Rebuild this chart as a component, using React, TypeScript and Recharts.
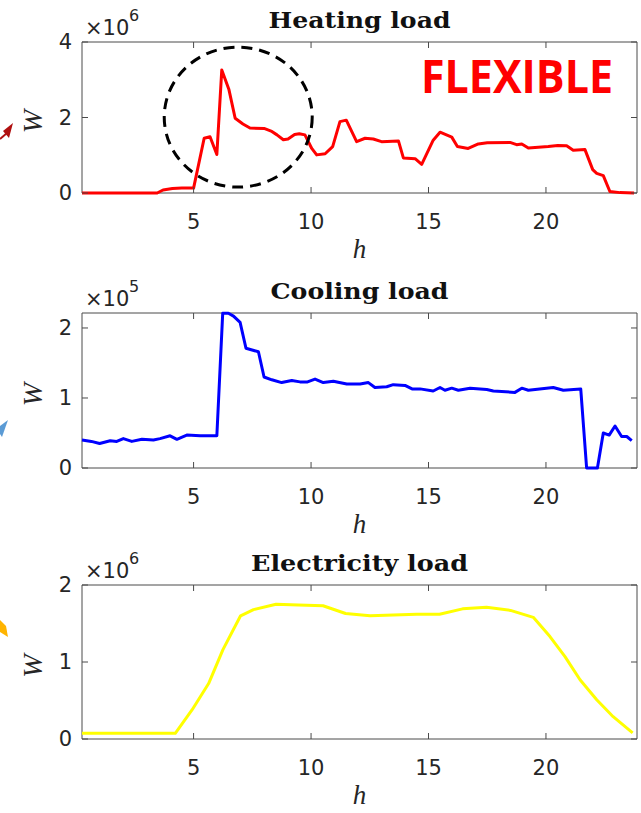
import { LineChart, Line, XAxis, YAxis, ReferenceDot, ReferenceArea } from "recharts";

// hours on the x axis, shared by all three panels
const HOUR_TICKS = [5, 10, 15, 20];
const HOUR_DOMAIN = [0.25, 23.875];

// heating load, x10^6 W
const heatingHours = [
  0.25, 3.45, 3.7, 4.1, 4.5, 5.0, 5.45, 5.7, 5.99, 6.2, 6.5, 6.77, 7.1, 7.4, 8.0, 8.3, 8.55, 8.82, 9.02, 9.3,
  9.5, 9.74, 10.03, 10.24, 10.6, 10.92, 11.23, 11.5, 11.94, 12.3, 12.65, 13.0, 13.72, 13.93, 14.43, 14.71,
  15.2, 15.49, 15.99, 16.23, 16.69, 17.12, 17.5, 18.47, 18.75, 18.97, 19.25, 20.1, 20.5, 20.88, 21.16,
  21.66, 21.99, 22.16, 22.44, 22.72, 23.15, 23.75,
];
const heatingValues = [
  0, 0, 0.08, 0.12, 0.13, 0.13, 1.45, 1.49, 1.02, 3.26, 2.75, 1.98, 1.83, 1.72, 1.71, 1.64, 1.54, 1.41, 1.43,
  1.55, 1.57, 1.54, 1.18, 1.01, 1.04, 1.23, 1.89, 1.93, 1.36, 1.45, 1.43, 1.36, 1.38, 0.93, 0.91, 0.76, 1.4,
  1.61, 1.48, 1.23, 1.18, 1.3, 1.33, 1.34, 1.28, 1.3, 1.19, 1.23, 1.26, 1.25, 1.13, 1.15, 0.62, 0.52, 0.46,
  0.04, 0.01, 0,
];

// cooling load, x10^5 W
const coolingHours = [
  0.25, 0.65, 1.0, 1.45, 1.73, 2.01, 2.37, 2.8, 3.29, 3.57, 4.0, 4.29, 4.71, 5.28, 5.99, 6.24, 6.48, 6.7,
  6.98, 7.23, 7.76, 8.0, 8.33, 8.75, 9.18, 9.53, 9.85, 10.17, 10.52, 10.95, 11.52, 12.09, 12.44, 12.72,
  13.22, 13.5, 14.0, 14.3, 14.64, 15.2, 15.49, 15.7, 15.99, 16.27, 16.77, 17.48, 17.76, 18.68, 18.97,
  19.25, 20.31, 20.74, 21.48, 21.73, 22.19, 22.44, 22.69, 22.94, 23.22, 23.44, 23.65,
];
const coolingValues = [
  0.4, 0.38, 0.35, 0.39, 0.38, 0.42, 0.38, 0.41, 0.4, 0.42, 0.46, 0.41, 0.47, 0.46, 0.46, 2.21, 2.21, 2.17,
  2.08, 1.71, 1.66, 1.3, 1.26, 1.22, 1.25, 1.23, 1.23, 1.27, 1.22, 1.24, 1.2, 1.2, 1.22, 1.15, 1.16, 1.19,
  1.18, 1.13, 1.13, 1.1, 1.15, 1.11, 1.14, 1.11, 1.14, 1.12, 1.1, 1.08, 1.14, 1.11, 1.15, 1.11, 1.13, 0, 0,
  0.5, 0.47, 0.6, 0.45, 0.45, 0.39,
];

// electricity load, x10^6 W
const electricityHours = [
  0.25, 4.22, 4.94, 5.64, 6.25, 7.0, 7.55, 8.51, 9.46, 10.51, 11.47, 12.51, 13.5, 14.5, 15.47, 16.45, 17.47,
  18.49, 19.46, 20.17, 20.81, 21.45, 22.16, 22.86, 23.69,
];
const electricityValues = [
  0.074, 0.074, 0.38, 0.72, 1.16, 1.6, 1.68, 1.75, 1.74, 1.73, 1.63, 1.6, 1.61, 1.62, 1.62, 1.69, 1.71,
  1.67, 1.58, 1.33, 1.07, 0.77, 0.51, 0.29, 0.08,
];

const AXIS = "#4a4a4a";
const TEXT = "#262626";
const TICK_FONT = { fill: TEXT, fontSize: 21, fontFamily: "DejaVu Sans" };
const TICK_LEN = 6;

const toRows = (hours: number[], values: number[]) => hours.map((h, i) => ({ h, v: values[i] }));

// inward tick mark drawn at a reference point
const tickMark = (dx: number, dy: number) => (p: any) =>
  <path d={`M${p.cx},${p.cy}l${dx},${dy}`} stroke={AXIS} strokeWidth={1} fill="none" />;

function LoadPanel(props: any) {
  const { title, titleLen, exp, rows, color, yMax, yTicks, height, top, bottom, children } = props;
  const [x0, x1] = HOUR_DOMAIN;

  const titleLabel = ({ viewBox }: any) => (
    <g>
      <text
        x={viewBox.x + viewBox.width / 2}
        y={viewBox.y - 14}
        textAnchor="middle"
        textLength={titleLen}
        lengthAdjust="spacingAndGlyphs"
        fontFamily="DejaVu Serif"
        fontWeight="bold"
        fontSize={22}
        fill="#111"
      >
        {title}
      </text>
      <text x={viewBox.x + 3} y={viewBox.y - 7} fontFamily="DejaVu Sans" fontSize={21} fill={TEXT}>
        ×10
      </text>
      <text x={viewBox.x + 47} y={viewBox.y - 21} fontFamily="DejaVu Sans" fontSize={16} fill={TEXT}>
        {exp}
      </text>
    </g>
  );

  const hLabel = ({ viewBox }: any) => (
    <text
      x={viewBox.x + viewBox.width / 2}
      y={viewBox.y + 65}
      textAnchor="middle"
      fontFamily="Liberation Serif"
      fontStyle="italic"
      fontSize={27}
      fill={TEXT}
    >
      h
    </text>
  );

  const wLabel = ({ viewBox }: any) => {
    const cx = viewBox.x + 32;
    const cy = viewBox.y + viewBox.height / 2 + 4;
    return (
      <text
        x={cx}
        y={cy}
        transform={`rotate(-90 ${cx} ${cy})`}
        textAnchor="middle"
        dominantBaseline="central"
        fontFamily="Liberation Serif"
        fontStyle="italic"
        fontSize={28}
        fill={TEXT}
      >
        W
      </text>
    );
  };

  return (
    <LineChart width={641} height={height} data={rows} margin={{ top, right: 4, bottom, left: 0 }}>
      <XAxis
        dataKey="h"
        type="number"
        domain={HOUR_DOMAIN}
        ticks={HOUR_TICKS}
        interval={0}
        height={40}
        axisLine={false}
        tickLine={false}
        tickSize={-6}
        tickMargin={27}
        tick={TICK_FONT}
        label={hLabel}
      />
      <YAxis
        type="number"
        domain={[0, yMax]}
        ticks={yTicks}
        interval={0}
        width={82}
        axisLine={false}
        tickLine={false}
        tickSize={-6}
        tickMargin={16}
        tick={TICK_FONT}
        label={wLabel}
      />
      {/* MATLAB-style box around the axes, title sits on top of it */}
      <ReferenceArea
        x1={x0}
        x2={x1}
        y1={0}
        y2={yMax}
        fill="none"
        stroke={AXIS}
        strokeWidth={1}
        ifOverflow="visible"
        label={titleLabel}
      />
      {HOUR_TICKS.map((t) => (
        <ReferenceDot key={`b${t}`} x={t} y={0} r={1} ifOverflow="visible" shape={tickMark(0, -TICK_LEN)} />
      ))}
      {HOUR_TICKS.map((t) => (
        <ReferenceDot key={`t${t}`} x={t} y={yMax} r={1} ifOverflow="visible" shape={tickMark(0, TICK_LEN)} />
      ))}
      {yTicks.map((t: number) => (
        <ReferenceDot key={`l${t}`} x={x0} y={t} r={1} ifOverflow="visible" shape={tickMark(TICK_LEN, 0)} />
      ))}
      {yTicks.map((t: number) => (
        <ReferenceDot key={`r${t}`} x={x1} y={t} r={1} ifOverflow="visible" shape={tickMark(-TICK_LEN, 0)} />
      ))}
      <Line
        type="linear"
        dataKey="v"
        stroke={color}
        strokeWidth={3}
        strokeLinejoin="round"
        dot={false}
        isAnimationActive={false}
      />
      {children}
    </LineChart>
  );
}

export default function App() {
  return (
    <div style={{ position: "absolute", left: 0, top: 0, width: 641, height: 813, background: "#fff" }}>
      <LoadPanel
        title="Heating load"
        titleLen={182}
        exp="6"
        rows={toRows(heatingHours, heatingValues)}
        color="#ff0000"
        yMax={4}
        yTicks={[0, 2, 4]}
        height={270}
        top={42}
        bottom={37}
      >
        <ReferenceDot
          x={6.9}
          y={2.01}
          r={1}
          ifOverflow="visible"
          shape={(p: any) => (
            <ellipse cx={p.cx} cy={p.cy} rx={74} ry={70} fill="none" stroke="#000" strokeWidth={3} strokeDasharray="11 7" />
          )}
        />
        <ReferenceDot
          x={14.68}
          y={2.65}
          r={1}
          ifOverflow="visible"
          shape={(p: any) => (
            <text
              x={p.cx}
              y={p.cy}
              textLength={192}
              lengthAdjust="spacingAndGlyphs"
              fontFamily="Open Sans"
              fontWeight={700}
              fontSize={47}
              fill="#ff0000"
            >
              FLEXIBLE
            </text>
          )}
        />
      </LoadPanel>
      <LoadPanel
        title="Cooling load"
        titleLen={178}
        exp="5"
        rows={toRows(coolingHours, coolingValues)}
        color="#0000ff"
        yMax={2.214}
        yTicks={[0, 1, 2]}
        height={270}
        top={43}
        bottom={32}
      />
      <LoadPanel
        title="Electricity load"
        titleLen={217}
        exp="6"
        rows={toRows(electricityHours, electricityValues)}
        color="#ffff00"
        yMax={2}
        yTicks={[0, 1, 2]}
        height={273}
        top={45}
        bottom={34}
      />
      {/* arrow tips cut off at the left edge of the source figure */}
      <svg width={20} height={813} style={{ position: "absolute", left: 0, top: 0 }}>
        <line x1={0} y1={139} x2={7} y2={133} stroke="#b01010" strokeWidth={2} />
        <polygon points="13,123 3,131 9,138" fill="#b01010" />
        <polygon points="8,420 0,426 0,434 2,437" fill="#5b9bd5" />
        <polygon points="0,620 6,626 8,637 0,632" fill="#ffb400" />
      </svg>
    </div>
  );
}
